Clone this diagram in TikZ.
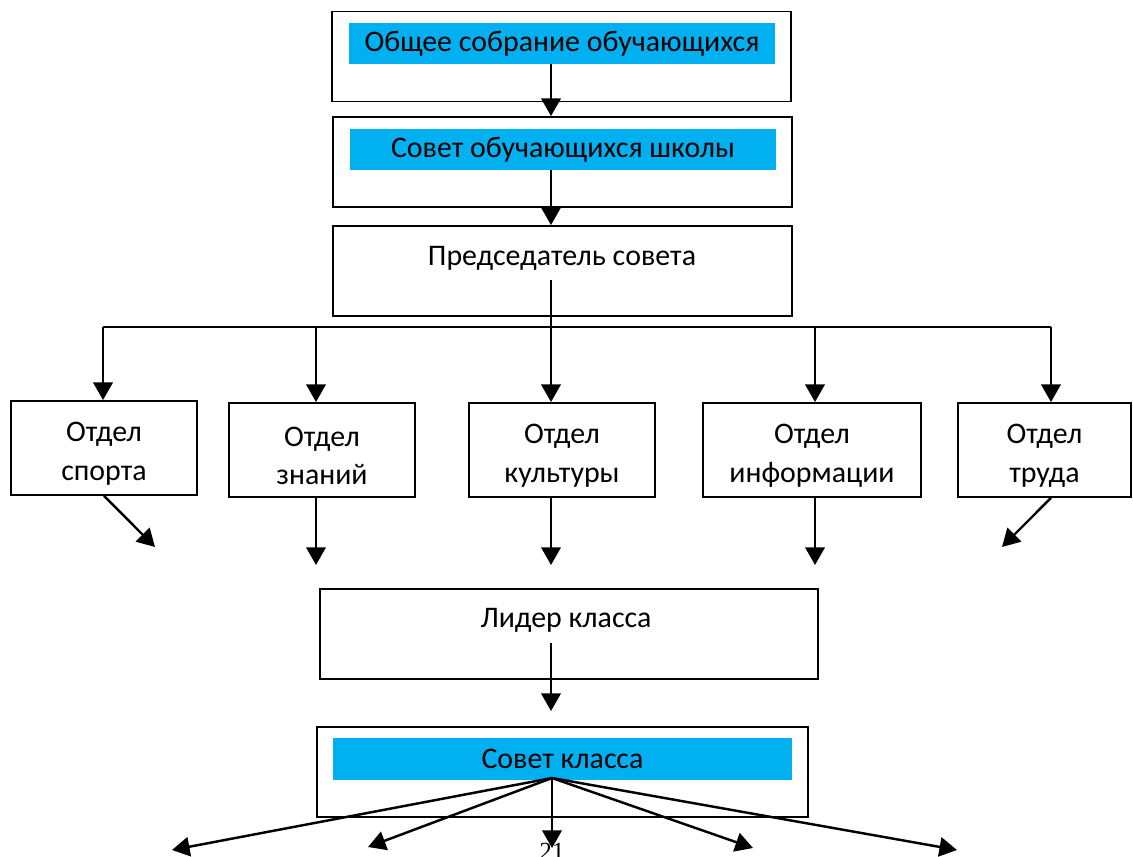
\documentclass[tikz,border=0pt]{standalone}
\usepackage{fontspec}
\setmainfont{Carlito}
\newfontfamily\pagenumfont{Liberation Serif}
\usetikzlibrary{arrows.meta}
\definecolor{barblue}{RGB}{0,176,240}

\begin{document}
\begin{tikzpicture}[%
      x=0.02cm, y=-0.02cm,
      font=\fontsize{17}{22}\selectfont,
      box/.style={draw=black, line width=1.1pt, minimum width=#1, minimum height=1.8cm, inner sep=0pt},
      bar/.style={fill=barblue, minimum width=#1, minimum height=0.82cm, inner sep=0pt},
      dept/.style={draw=black, line width=1.1pt, minimum width=#1, minimum height=1.88cm, inner sep=0pt},
      depttext/.style={align=center, yshift=-3.4pt},
      arr/.style={line width=1.4pt, -{Triangle[width=11pt,length=10pt]}},
      ]
      \useasboundingbox (0,0) rectangle (1133,856);

      \node [box=9.18cm] (assembly) at (561.5,56.5) {};
      \node [bar=8.52cm] (assemblybar) at (562,43.5) {Общее собрание обучающихся};
      \node [box=9.18cm] (council) at (562.5,162) {};
      \node [bar=8.52cm] (councilbar) at (563,149.5) {Совет обучающихся школы};
      \node [box=9.18cm] (chair) at (562.5,271) {};
      \node (chairtext) at (562,258) {Председатель совета};

      \coordinate (spine) at (551,0);
      \draw [arr] (assemblybar.south -| spine) -- (council.north -| spine);
      \draw [arr] (councilbar.south -| spine) -- (chair.north -| spine);

      % departments
      \node [dept=3.72cm, label={[depttext]center:Отдел\\спорта}] (sport) at (104,448) {};
      \node [dept=3.72cm, label={[depttext]center:Отдел\\знаний}] (know) at (322,450) {};
      \node [dept=3.72cm, label={[depttext]center:Отдел\\культуры}] (cult) at (562,450) {};
      \node [dept=4.36cm, label={[depttext]center:Отдел\\информации}] (info) at (812,450) {};
      \node [dept=3.46cm, label={[depttext]center:Отдел\\труда}] (labor) at (1044.5,450) {};

      \coordinate (chairstem) at (551,280);
      \coordinate (b1) at (103,327);
      \coordinate (b2) at (316,327);
      \coordinate (b3) at (551,327);
      \coordinate (b4) at (815,327);
      \coordinate (b5) at (1051,327);
      \draw [line width=1.4pt] (chairstem) -- (b3);
      \draw [line width=1.4pt] (b1) -- (b5);
      \foreach \b/\d in {b1/sport, b2/know, b3/cult, b4/info, b5/labor}
        \draw [arr] (\b) -- (\b |- \d.north);

      \coordinate (sportend) at (155,547);
      \coordinate (knowend) at (316,565);
      \coordinate (cultend) at (551,565);
      \coordinate (infoend) at (815,565);
      \coordinate (laborend) at (1002,547);
      \draw [arr] (sport.south) -- (sportend);
      \draw [arr] (know.south -| knowend) -- (knowend);
      \draw [arr] (cult.south -| cultend) -- (cultend);
      \draw [arr] (info.south -| infoend) -- (infoend);
      \draw [arr] (labor.south -| b5) -- (laborend);

      % class level
      \node [box=9.96cm] (leader) at (569,634) {};
      \node (leadertext) at (566,620) {Лидер класса};
      \coordinate (leaderstem) at (551,643);
      \coordinate (leaderend) at (551,711);
      \draw [arr] (leaderstem) -- (leaderend);

      \node [box=9.82cm] (classcouncil) at (562.5,772) {};
      \node [bar=9.18cm, minimum height=0.84cm] (classbar) at (562.5,759) {Совет класса};

      \coordinate (fan) at (552,778);
      \foreach \x/\y in {172/850, 368/847, 552/848, 753/848, 957/850}
        \draw [arr] (fan) -- (\x,\y);

      \node [font=\pagenumfont\fontsize{14}{16}\selectfont] (pagenum) at (552,851) {21};
\end{tikzpicture}
\end{document}
